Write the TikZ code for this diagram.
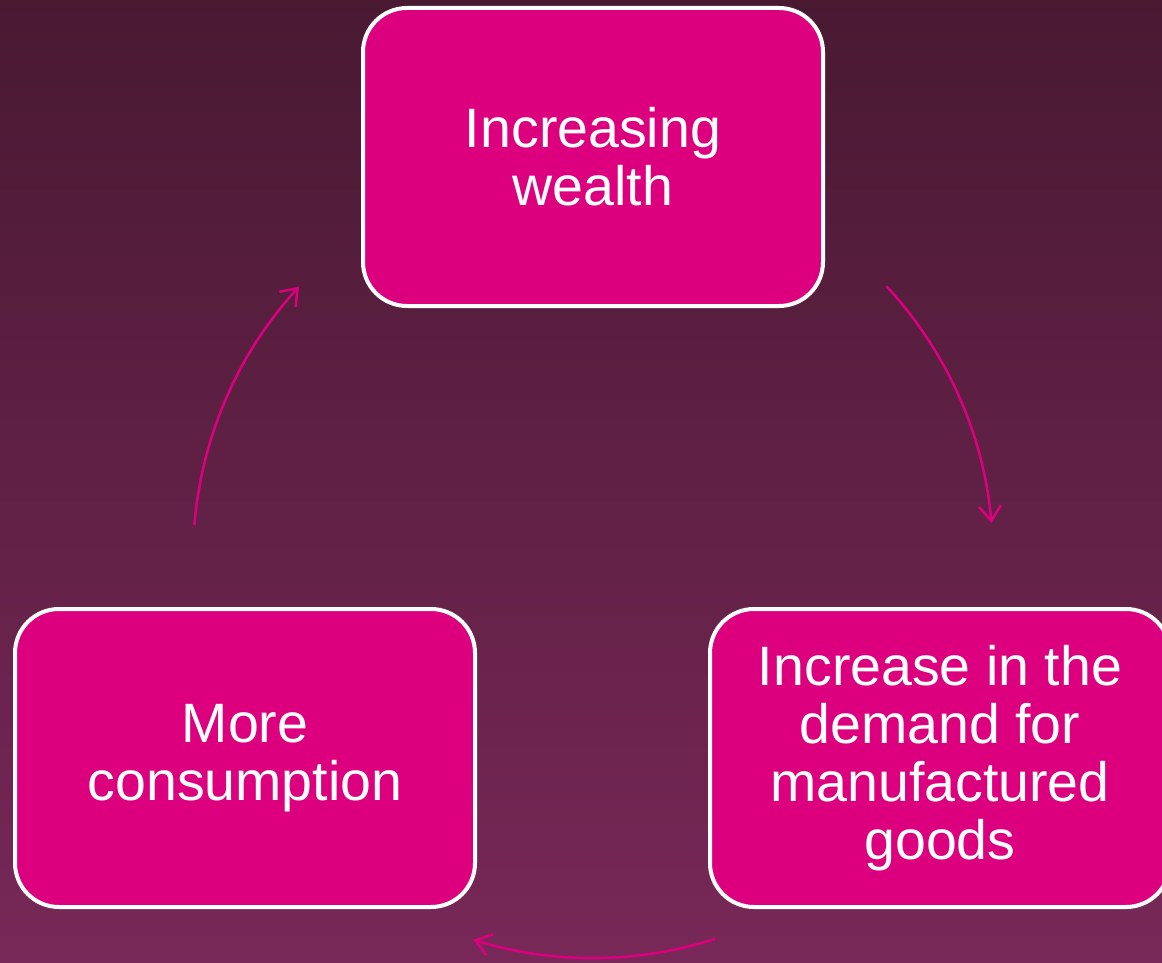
\documentclass[tikz,border=0pt]{standalone}
\usepackage{fontspec}
\setmainfont{Liberation Sans}
\usetikzlibrary{arrows.meta,calc}
\definecolor{bgtop}{HTML}{491932}
\definecolor{bgbot}{HTML}{782858}
\definecolor{boxpink}{HTML}{DC007F}
\tikzset{
  cyclebox/.style={draw=white, line width=4pt, fill=boxpink, rounded corners=44pt,
    minimum width=460pt, minimum height=298pt, align=center, text=white,
    font=\fontsize{55.5}{58}\selectfont, inner sep=0pt},
  cyclearrow/.style={draw=boxpink, line width=2.5pt, -{Straight Barb[length=15pt,width=22pt]}}
}
\begin{document}
\begin{tikzpicture}[x=1pt,y=1pt]
\useasboundingbox (0,0) rectangle (1162,-963);
\clip (0,0) rectangle (1162,-963);
\shade[top color=bgtop, bottom color=bgbot] (0,0) rectangle (1162,-963);
\node[cyclebox] (wealth) at (593,-157) {Increasing\\wealth};
\node[cyclebox] (demand) at (940,-758) {Increase in the\\demand for\\manufactured\\goods};
\node[cyclebox] (consume) at (245,-758) {More\\consumption};
\coordinate (ctr) at (593,-558);
\coordinate (a1) at ($(ctr)+(42.8:400)$);
\coordinate (a2) at ($(ctr)+(-72.2:400)$);
\coordinate (a3) at ($(ctr)+(175.3:400)$);
\draw[cyclearrow] (a1) arc[start angle=42.8, end angle=5, radius=400];
\draw[cyclearrow] (a2) arc[start angle=-72.2, end angle=-107.4, radius=400];
\draw[cyclearrow] (a3) arc[start angle=175.3, end angle=137.3, radius=400];
\end{tikzpicture}
\end{document}
